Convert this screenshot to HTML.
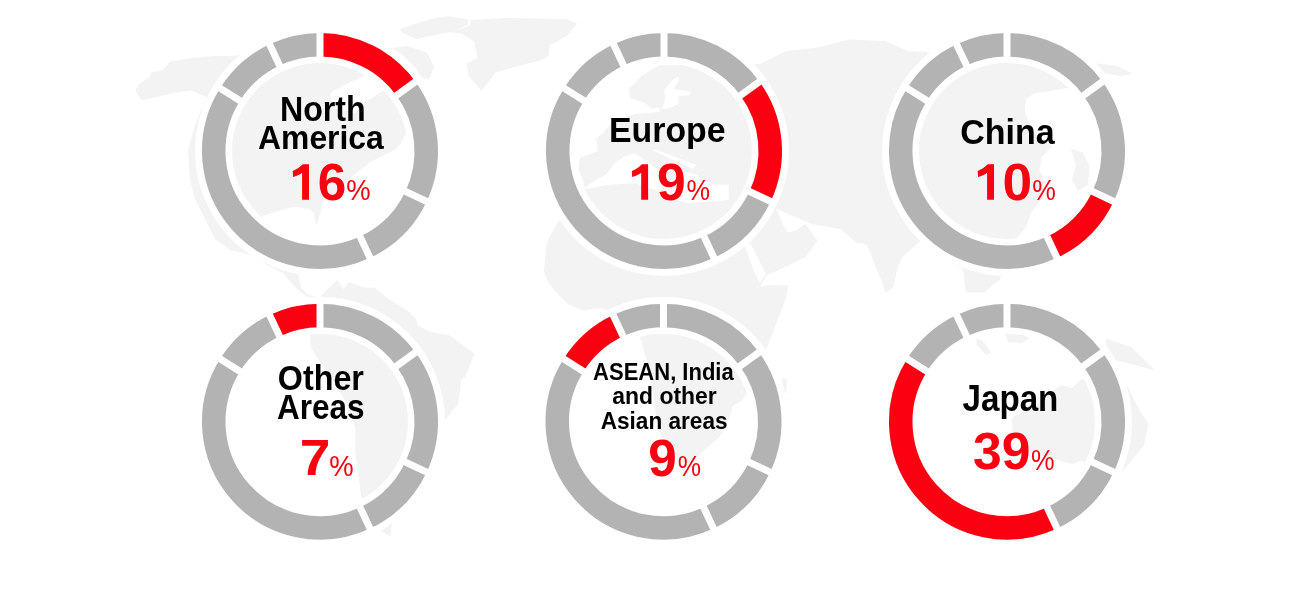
<!DOCTYPE html>
<html><head><meta charset="utf-8"><style>
html,body{margin:0;padding:0;background:#fff;width:1294px;height:608px;overflow:hidden}
svg{display:block;will-change:transform}
text{font-family:"Liberation Sans",sans-serif}
</style></head><body>
<svg width="1294" height="608" viewBox="0 0 1294 608">
<g fill="#f3f3f3"><path d="M135.2 90.6 L139.5 84.1 L150.3 76.5 L151.4 72.2 L163.3 70.0 L169.8 61.4 L191.4 58.1 L215.2 56.0 L232.6 56.0 L260.0 52.0 L300.0 48.0 L340.0 52.0 L385.0 62.0 L400.0 80.0 L405.0 100.0 L410.0 125.0 L400.0 145.0 L394.5 150.0 L387.9 153.3 L371.4 161.5 L358.3 171.4 L348.4 179.6 L335.0 194.4 L322.0 202.6 L320.5 212.5 L316.3 225.7 L313.9 212.5 L309.0 209.2 L295.8 206.7 L284.3 209.2 L262.9 215.8 L258.0 235.0 L268.0 250.0 L290.0 252.0 L297.7 270.0 L301.0 287.7 L307.6 294.3 L315.8 296.7 L320.7 296.0 L307.6 297.6 L299.3 291.0 L291.0 282.8 L282.9 272.9 L266.4 264.7 L250.0 254.8 L230.0 250.0 L215.0 239.0 L203.3 215.5 L194.4 197.8 L190.0 180.0 L188.0 150.0 L195.0 125.0 L206.6 97.1 L191.4 90.6 L174.1 92.8 L156.8 97.1 L141.6 100.3Z"/>
<path d="M320.7 296.0 L327.3 289.3 L337.2 280.3 L343.8 289.3 L348.7 282.0 L365.1 287.7 L375.0 287.7 L386.5 297.6 L407.9 310.7 L416.0 319.0 L417.8 325.5 L431.0 332.1 L450.0 335.4 L465.3 346.8 L474.5 353.7 L465.3 376.8 L461.3 380.0 L458.3 403.7 L445.0 420.0 L425.0 445.0 L405.0 470.0 L395.0 500.0 L390.3 536.8 L378.5 529.4 L361.3 496.7 L358.3 475.5 L355.3 451.0 L355.3 427.0 L346.2 402.7 L334.0 381.5 L319.0 360.3 L311.3 348.2 L309.8 336.0 L312.0 315.0Z"/>
<path d="M470.5 19.9 L506.7 18.1 L566.4 19.0 L577.2 23.5 L566.4 36.2 L550.0 45.2 L548.3 56.1 L542.8 59.7 L513.9 66.9 L495.8 72.4 L481.3 90.5 L468.7 76.0 L466.8 63.3 L477.7 57.9 L474.1 41.6 L461.4 33.5 L450.6 32.6 L470.5 25.3Z"/>
<path d="M399.9 29.0 L416.2 23.5 L434.3 18.1 L448.8 16.3 L468.0 19.5 L468.0 25.0 L452.4 31.7 L428.9 36.2 L416.2 38.9 L401.7 32.6Z"/>
<path d="M391.8 48.0 L407.1 46.1 L427.0 52.5 L434.3 66.9 L428.9 79.6 L421.6 77.8 L416.2 68.8 L401.7 54.3Z"/>
<path d="M570.0 200.0 L559.0 220.6 L548.1 239.0 L546.0 249.8 L543.8 271.4 L548.1 282.3 L556.8 293.0 L567.6 303.9 L582.8 310.4 L597.9 308.2 L620.0 312.0 L638.0 325.0 L640.6 339.4 L648.0 365.0 L653.0 392.5 L657.8 429.6 L669.6 449.3 L683.4 463.1 L689.3 465.0 L705.0 449.3 L719.0 437.5 L728.8 419.7 L732.7 406.0 L742.6 400.0 L755.0 380.0 L768.0 345.0 L779.7 314.7 L786.2 297.4 L788.4 285.5 L770.0 285.0 L760.0 286.7 L766.9 275.2 L787.6 266.0 L806.0 256.7 L817.5 240.6 L804.9 223.4 L796.8 230.3 L787.6 232.6 L783.0 224.5 L776.0 208.4 L790.0 215.0 L813.0 224.5 L840.5 229.1 L856.7 243.0 L865.9 244.0 L870.5 252.0 L875.0 266.0 L882.0 282.0 L885.4 293.6 L893.5 286.7 L898.0 266.0 L902.7 256.7 L921.0 240.6 L940.0 250.0 L950.0 262.4 L963.0 269.0 L965.8 292.6 L984.2 292.6 L1000.0 279.5 L1005.0 260.0 L1015.0 240.0 L1026.0 228.0 L1031.6 212.0 L1042.0 199.0 L1046.0 183.0 L1039.5 170.0 L1042.0 157.0 L1052.6 146.3 L1034.0 133.0 L1025.0 112.0 L1026.3 99.0 L1034.0 93.7 L1065.8 88.4 L1090.0 86.0 L1098.0 72.0 L1120.0 76.0 L1133.0 74.0 L1118.0 66.0 L1098.0 63.5 L1060.0 55.0 L1000.0 52.0 L931.0 52.6 L908.0 51.0 L885.0 41.0 L849.0 39.5 L816.0 47.7 L786.0 51.0 L760.0 64.0 L700.0 65.3 L659.0 65.3 L641.8 75.8 L628.7 89.0 L630.0 98.0 L645.8 103.4 L651.0 108.7 L659.0 107.4 L660.0 112.0 L635.3 114.0 L612.0 122.0 L603.0 133.0 L596.4 138.0 L598.0 151.0 L580.0 157.8 L578.3 169.3 L583.2 180.9 L584.9 189.0Z"/>
<path d="M782.0 378.0 L787.0 380.0 L786.0 394.0 L782.0 392.0Z"/>
<path d="M976.0 337.0 L984.0 342.0 L991.0 353.0 L986.0 355.0 L977.0 345.0Z"/>
<path d="M1005.0 333.0 L1020.0 332.0 L1029.0 338.0 L1022.0 343.0 L1008.0 342.0Z"/>
<path d="M1105.6 338.5 L1131.3 347.0 L1140.0 355.6 L1154.8 370.5 L1131.3 364.0 L1114.0 360.0 L1107.0 350.0Z"/>
<path d="M1011.8 420.6 L1013.0 417.0 L1036.0 406.0 L1056.0 388.0 L1061.5 385.4 L1072.3 388.0 L1079.6 380.8 L1085.0 377.0 L1095.0 385.0 L1110.0 395.0 L1117.0 385.0 L1127.0 385.5 L1139.8 411.0 L1148.4 424.0 L1144.0 445.0 L1122.7 471.0 L1100.0 470.0 L1081.4 460.4 L1072.3 464.0 L1050.0 458.0 L1025.0 450.0 L1012.7 433.3Z"/>
<path d="M584.8 187.5 L596.0 180.0 L607.1 173.5 L614.1 163.8 L623.9 156.8 L633.7 153.3 L645.0 160.0 L660.0 172.0 L672.0 180.0 L686.0 172.0 L696.6 175.0 L714.8 184.7 L728.7 184.7 L728.7 200.1 L714.8 201.5 L686.8 202.9 L672.8 198.7 L655.0 190.0 L635.1 183.3 L610.0 184.7 L586.2 189.0Z" fill="#fff"/>
<path d="M652.0 150.0 L657.0 150.0 L696.0 165.0 L693.0 169.0Z" fill="#fff"/>
<path d="M744.0 244.0 L750.0 243.0 L766.0 274.0 L760.0 282.0 L756.0 276.0Z" fill="#fff"/>
<path d="M678.0 76.5 L679.2 80.0 L673.4 89.3 L690.8 91.6 L689.7 95.0 L678.0 96.2 L679.2 103.2 L671.1 107.8 L661.8 109.0 L665.3 99.7 L664.2 90.4 L671.1 81.2Z" fill="#fff"/>
<path d="M330.3 94.8 L333.0 91.0 L346.0 84.3 L363.0 76.4 L375.0 70.0 L400.0 78.0 L379.0 93.5 L365.8 101.4 L355.0 113.0 L334.0 108.0Z" fill="#fff"/>
<path d="M1015.0 240.0 L1026.0 228.0 L1031.6 212.0 L1042.0 199.0 L1046.0 183.0 L1039.5 170.0 L1042.0 157.0 L1052.6 146.3 L1034.0 133.0 L1025.0 112.0 L1026.3 99.0 L1034.0 93.7 L1065.8 88.4 L1090.0 86.0 L1110.0 95.0 L1110.0 245.0Z" fill="#fff"/>
<path d="M1071.0 149.0 L1082.0 152.0 L1089.5 165.0 L1088.0 185.0 L1078.0 191.0 L1072.0 180.0 L1076.0 165.0Z"/></g>
<circle cx="320" cy="151" r="106.5" stroke="#fff" stroke-width="37" fill="none"/>
<path d="M320.00 44.75A106.25 106.25 0 0 1 405.96 88.55" stroke="#fa0011" stroke-width="23.5" fill="none"/>
<path d="M405.96 88.55A106.25 106.25 0 0 1 416.05 196.42" stroke="#b3b3b3" stroke-width="23.5" fill="none"/>
<path d="M416.05 196.42A106.25 106.25 0 0 1 365.06 247.22" stroke="#b3b3b3" stroke-width="23.5" fill="none"/>
<path d="M365.06 247.22A106.25 106.25 0 0 1 230.04 94.46" stroke="#b3b3b3" stroke-width="23.5" fill="none"/>
<path d="M230.04 94.46A106.25 106.25 0 0 1 274.58 54.95" stroke="#b3b3b3" stroke-width="23.5" fill="none"/>
<path d="M274.58 54.95A106.25 106.25 0 0 1 320.00 44.75" stroke="#b3b3b3" stroke-width="23.5" fill="none"/>
<line x1="320.00" y1="59.50" x2="320.00" y2="30.00" stroke="#fff" stroke-width="7"/>
<line x1="394.03" y1="97.22" x2="417.89" y2="79.88" stroke="#fff" stroke-width="7"/>
<line x1="402.72" y1="190.11" x2="429.39" y2="202.73" stroke="#fff" stroke-width="7"/>
<line x1="358.80" y1="233.86" x2="371.31" y2="260.58" stroke="#fff" stroke-width="7"/>
<line x1="242.53" y1="102.31" x2="217.55" y2="86.61" stroke="#fff" stroke-width="7"/>
<line x1="280.89" y1="68.28" x2="268.27" y2="41.61" stroke="#fff" stroke-width="7"/>
<circle cx="664" cy="151" r="106.5" stroke="#fff" stroke-width="37" fill="none"/>
<path d="M664.00 44.75A106.25 106.25 0 0 1 749.96 88.55" stroke="#b3b3b3" stroke-width="23.5" fill="none"/>
<path d="M749.96 88.55A106.25 106.25 0 0 1 760.05 196.42" stroke="#fa0011" stroke-width="23.5" fill="none"/>
<path d="M760.05 196.42A106.25 106.25 0 0 1 709.06 247.22" stroke="#b3b3b3" stroke-width="23.5" fill="none"/>
<path d="M709.06 247.22A106.25 106.25 0 0 1 574.04 94.46" stroke="#b3b3b3" stroke-width="23.5" fill="none"/>
<path d="M574.04 94.46A106.25 106.25 0 0 1 618.58 54.95" stroke="#b3b3b3" stroke-width="23.5" fill="none"/>
<path d="M618.58 54.95A106.25 106.25 0 0 1 664.00 44.75" stroke="#b3b3b3" stroke-width="23.5" fill="none"/>
<line x1="664.00" y1="59.50" x2="664.00" y2="30.00" stroke="#fff" stroke-width="7"/>
<line x1="738.03" y1="97.22" x2="761.89" y2="79.88" stroke="#fff" stroke-width="7"/>
<line x1="746.72" y1="190.11" x2="773.39" y2="202.73" stroke="#fff" stroke-width="7"/>
<line x1="702.80" y1="233.86" x2="715.31" y2="260.58" stroke="#fff" stroke-width="7"/>
<line x1="586.53" y1="102.31" x2="561.55" y2="86.61" stroke="#fff" stroke-width="7"/>
<line x1="624.89" y1="68.28" x2="612.27" y2="41.61" stroke="#fff" stroke-width="7"/>
<circle cx="1007" cy="151" r="106.5" stroke="#fff" stroke-width="37" fill="none"/>
<path d="M1007.00 44.75A106.25 106.25 0 0 1 1092.96 88.55" stroke="#b3b3b3" stroke-width="23.5" fill="none"/>
<path d="M1092.96 88.55A106.25 106.25 0 0 1 1103.05 196.42" stroke="#b3b3b3" stroke-width="23.5" fill="none"/>
<path d="M1103.05 196.42A106.25 106.25 0 0 1 1052.06 247.22" stroke="#fa0011" stroke-width="23.5" fill="none"/>
<path d="M1052.06 247.22A106.25 106.25 0 0 1 917.04 94.46" stroke="#b3b3b3" stroke-width="23.5" fill="none"/>
<path d="M917.04 94.46A106.25 106.25 0 0 1 961.58 54.95" stroke="#b3b3b3" stroke-width="23.5" fill="none"/>
<path d="M961.58 54.95A106.25 106.25 0 0 1 1007.00 44.75" stroke="#b3b3b3" stroke-width="23.5" fill="none"/>
<line x1="1007.00" y1="59.50" x2="1007.00" y2="30.00" stroke="#fff" stroke-width="7"/>
<line x1="1081.03" y1="97.22" x2="1104.89" y2="79.88" stroke="#fff" stroke-width="7"/>
<line x1="1089.72" y1="190.11" x2="1116.39" y2="202.73" stroke="#fff" stroke-width="7"/>
<line x1="1045.80" y1="233.86" x2="1058.31" y2="260.58" stroke="#fff" stroke-width="7"/>
<line x1="929.53" y1="102.31" x2="904.55" y2="86.61" stroke="#fff" stroke-width="7"/>
<line x1="967.89" y1="68.28" x2="955.27" y2="41.61" stroke="#fff" stroke-width="7"/>
<circle cx="320" cy="421.7" r="106.5" stroke="#fff" stroke-width="37" fill="none"/>
<path d="M320.00 315.45A106.25 106.25 0 0 1 405.96 359.25" stroke="#b3b3b3" stroke-width="23.5" fill="none"/>
<path d="M405.96 359.25A106.25 106.25 0 0 1 416.05 467.12" stroke="#b3b3b3" stroke-width="23.5" fill="none"/>
<path d="M416.05 467.12A106.25 106.25 0 0 1 365.06 517.92" stroke="#b3b3b3" stroke-width="23.5" fill="none"/>
<path d="M365.06 517.92A106.25 106.25 0 0 1 230.04 365.16" stroke="#b3b3b3" stroke-width="23.5" fill="none"/>
<path d="M230.04 365.16A106.25 106.25 0 0 1 274.58 325.65" stroke="#b3b3b3" stroke-width="23.5" fill="none"/>
<path d="M274.58 325.65A106.25 106.25 0 0 1 320.00 315.45" stroke="#fa0011" stroke-width="23.5" fill="none"/>
<line x1="320.00" y1="330.20" x2="320.00" y2="300.70" stroke="#fff" stroke-width="7"/>
<line x1="394.03" y1="367.92" x2="417.89" y2="350.58" stroke="#fff" stroke-width="7"/>
<line x1="402.72" y1="460.81" x2="429.39" y2="473.43" stroke="#fff" stroke-width="7"/>
<line x1="358.80" y1="504.56" x2="371.31" y2="531.28" stroke="#fff" stroke-width="7"/>
<line x1="242.53" y1="373.01" x2="217.55" y2="357.31" stroke="#fff" stroke-width="7"/>
<line x1="280.89" y1="338.98" x2="268.27" y2="312.31" stroke="#fff" stroke-width="7"/>
<circle cx="663.5" cy="421.7" r="106.5" stroke="#fff" stroke-width="37" fill="none"/>
<path d="M663.50 315.45A106.25 106.25 0 0 1 749.46 359.25" stroke="#b3b3b3" stroke-width="23.5" fill="none"/>
<path d="M749.46 359.25A106.25 106.25 0 0 1 759.55 467.12" stroke="#b3b3b3" stroke-width="23.5" fill="none"/>
<path d="M759.55 467.12A106.25 106.25 0 0 1 708.56 517.92" stroke="#b3b3b3" stroke-width="23.5" fill="none"/>
<path d="M708.56 517.92A106.25 106.25 0 0 1 573.54 365.16" stroke="#b3b3b3" stroke-width="23.5" fill="none"/>
<path d="M573.54 365.16A106.25 106.25 0 0 1 618.08 325.65" stroke="#fa0011" stroke-width="23.5" fill="none"/>
<path d="M618.08 325.65A106.25 106.25 0 0 1 663.50 315.45" stroke="#b3b3b3" stroke-width="23.5" fill="none"/>
<line x1="663.50" y1="330.20" x2="663.50" y2="300.70" stroke="#fff" stroke-width="7"/>
<line x1="737.53" y1="367.92" x2="761.39" y2="350.58" stroke="#fff" stroke-width="7"/>
<line x1="746.22" y1="460.81" x2="772.89" y2="473.43" stroke="#fff" stroke-width="7"/>
<line x1="702.30" y1="504.56" x2="714.81" y2="531.28" stroke="#fff" stroke-width="7"/>
<line x1="586.03" y1="373.01" x2="561.05" y2="357.31" stroke="#fff" stroke-width="7"/>
<line x1="624.39" y1="338.98" x2="611.77" y2="312.31" stroke="#fff" stroke-width="7"/>
<circle cx="1007" cy="421.7" r="106.5" stroke="#fff" stroke-width="37" fill="none"/>
<path d="M1007.00 315.45A106.25 106.25 0 0 1 1092.96 359.25" stroke="#b3b3b3" stroke-width="23.5" fill="none"/>
<path d="M1092.96 359.25A106.25 106.25 0 0 1 1103.05 467.12" stroke="#b3b3b3" stroke-width="23.5" fill="none"/>
<path d="M1103.05 467.12A106.25 106.25 0 0 1 1052.06 517.92" stroke="#b3b3b3" stroke-width="23.5" fill="none"/>
<path d="M1052.06 517.92A106.25 106.25 0 0 1 917.04 365.16" stroke="#fa0011" stroke-width="23.5" fill="none"/>
<path d="M917.04 365.16A106.25 106.25 0 0 1 961.58 325.65" stroke="#b3b3b3" stroke-width="23.5" fill="none"/>
<path d="M961.58 325.65A106.25 106.25 0 0 1 1007.00 315.45" stroke="#b3b3b3" stroke-width="23.5" fill="none"/>
<line x1="1007.00" y1="330.20" x2="1007.00" y2="300.70" stroke="#fff" stroke-width="7"/>
<line x1="1081.03" y1="367.92" x2="1104.89" y2="350.58" stroke="#fff" stroke-width="7"/>
<line x1="1089.72" y1="460.81" x2="1116.39" y2="473.43" stroke="#fff" stroke-width="7"/>
<line x1="1045.80" y1="504.56" x2="1058.31" y2="531.28" stroke="#fff" stroke-width="7"/>
<line x1="929.53" y1="373.01" x2="904.55" y2="357.31" stroke="#fff" stroke-width="7"/>
<line x1="967.89" y1="338.98" x2="955.27" y2="312.31" stroke="#fff" stroke-width="7"/>
<path transform="translate(0 0)" d="M309 164.3L309 199.7L302.1 199.7L302.1 172.7Q299.5 175 293.1 177L292.7 170.9Q298.5 169 302.8 164.3Z" fill="#fa0011"/>
<path transform="translate(339.1 0)" d="M309 164.3L309 199.7L302.1 199.7L302.1 172.7Q299.5 175 293.1 177L292.7 170.9Q298.5 169 302.8 164.3Z" fill="#fa0011"/>
<path transform="translate(685 0)" d="M309 164.3L309 199.7L302.1 199.7L302.1 172.7Q299.5 175 293.1 177L292.7 170.9Q298.5 169 302.8 164.3Z" fill="#fa0011"/>
<text x="279.90" y="120.50" font-size="34.15" font-weight="bold" fill="#000" textLength="85.88" lengthAdjust="spacingAndGlyphs">North</text>
<text x="258.10" y="149.10" font-size="33.33" font-weight="bold" fill="#000" textLength="125.62" lengthAdjust="spacingAndGlyphs">America</text>
<text x="317.80" y="200.10" font-size="51.47" font-weight="bold" fill="#fa0011" textLength="28.52" lengthAdjust="spacingAndGlyphs">6</text>
<text x="346.30" y="200.00" font-size="28.94" font-weight="normal" fill="#fa0011" textLength="24.39" lengthAdjust="spacingAndGlyphs">%</text>
<text x="609.00" y="142.40" font-size="35.48" font-weight="bold" fill="#000" textLength="116.56" lengthAdjust="spacingAndGlyphs">Europe</text>
<text x="656.90" y="200.00" font-size="51.28" font-weight="bold" fill="#fa0011" textLength="28.75" lengthAdjust="spacingAndGlyphs">9</text>
<text x="686.40" y="200.00" font-size="28.94" font-weight="normal" fill="#fa0011" textLength="23.60" lengthAdjust="spacingAndGlyphs">%</text>
<text x="960.20" y="143.60" font-size="35.92" font-weight="bold" fill="#000" textLength="94.49" lengthAdjust="spacingAndGlyphs">China</text>
<text x="1002.60" y="200.00" font-size="51.28" font-weight="bold" fill="#fa0011" textLength="29.63" lengthAdjust="spacingAndGlyphs">0</text>
<text x="1032.30" y="200.00" font-size="28.94" font-weight="normal" fill="#fa0011" textLength="23.60" lengthAdjust="spacingAndGlyphs">%</text>
<text x="277.80" y="389.60" font-size="34.65" font-weight="bold" fill="#000" textLength="86.11" lengthAdjust="spacingAndGlyphs">Other</text>
<text x="277.10" y="419.20" font-size="34.77" font-weight="bold" fill="#000" textLength="87.47" lengthAdjust="spacingAndGlyphs">Areas</text>
<text x="299.80" y="475.20" font-size="50.77" font-weight="bold" fill="#fa0011" textLength="30.63" lengthAdjust="spacingAndGlyphs">7</text>
<text x="329.30" y="475.90" font-size="29.11" font-weight="normal" fill="#fa0011" textLength="24.39" lengthAdjust="spacingAndGlyphs">%</text>
<text x="593.10" y="380.00" font-size="23.00" font-weight="bold" fill="#000" textLength="140.64" lengthAdjust="spacingAndGlyphs">ASEAN, India</text>
<text x="612.25" y="403.75" font-size="23.33" font-weight="bold" fill="#000" textLength="104.54" lengthAdjust="spacingAndGlyphs">and other</text>
<text x="600.70" y="429.00" font-size="23.58" font-weight="bold" fill="#000" textLength="126.83" lengthAdjust="spacingAndGlyphs">Asian areas</text>
<text x="648.20" y="475.60" font-size="51.28" font-weight="bold" fill="#fa0011" textLength="28.52" lengthAdjust="spacingAndGlyphs">9</text>
<text x="677.70" y="475.90" font-size="29.11" font-weight="normal" fill="#fa0011" textLength="23.35" lengthAdjust="spacingAndGlyphs">%</text>
<text x="962.50" y="411.00" font-size="36.11" font-weight="bold" fill="#000" textLength="95.87" lengthAdjust="spacingAndGlyphs">Japan</text>
<text x="973.10" y="469.20" font-size="51.08" font-weight="bold" fill="#fa0011" textLength="57.50" lengthAdjust="spacingAndGlyphs">39</text>
<text x="1031.00" y="469.60" font-size="28.94" font-weight="normal" fill="#fa0011" textLength="23.60" lengthAdjust="spacingAndGlyphs">%</text>
</svg>
</body></html>
